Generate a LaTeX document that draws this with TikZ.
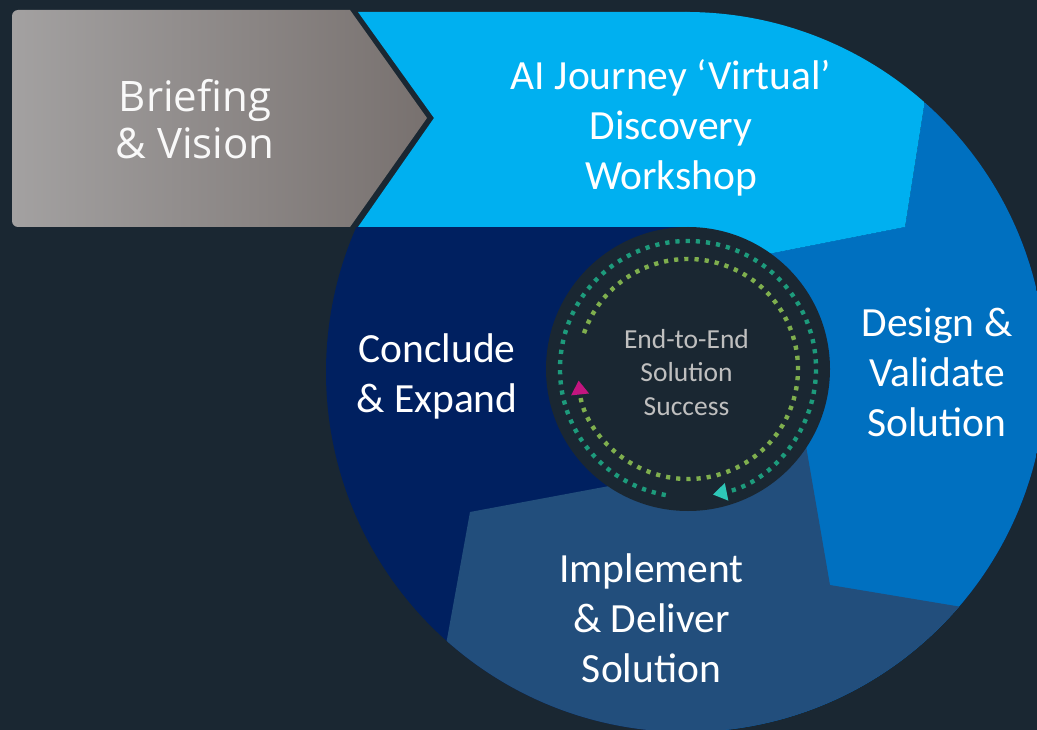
\documentclass[tikz,border=0pt]{standalone}
\usepackage{fontspec}
\setmainfont{Carlito}
\newfontfamily\briefingfont{Open Sans}
\usetikzlibrary{arrows.meta}

\definecolor{bgdark}{HTML}{1A2732}
\definecolor{skyblue}{HTML}{00B0F0}
\definecolor{midblue}{HTML}{0070C0}
\definecolor{navyblue}{HTML}{002060}
\definecolor{steelblue}{HTML}{224E7C}
\definecolor{grayL}{HTML}{A3A1A1}
\definecolor{grayR}{HTML}{78716F}
\definecolor{ringgreen}{HTML}{7FAF4E}
\definecolor{ringteal}{HTML}{1D9B7C}
\definecolor{tipmagenta}{HTML}{C3157F}
\definecolor{tipcyan}{HTML}{2EC7B8}
\definecolor{coretext}{HTML}{BFBFBF}

\begin{document}
\begin{tikzpicture}[x=1pt,y=-1pt,
  phase/.style={text=white, align=center, inner sep=0pt,
    font=\fontsize{41.5}{50}\selectfont},
  coretxt/.style={text=coretext, align=center, inner sep=0pt,
    font=\fontsize{27.5}{33.5}\selectfont},
  dotring/.style={line width=4.4pt, dash pattern=on 4.2pt off 6pt}]

% canvas
\fill[bgdark] (0,0) rectangle (1037,730);
\useasboundingbox (0,0) rectangle (1037,730);

% ring segments, cut by the outer circle
\begin{scope}
  \clip (686,372) circle[radius=360];
  \fill[navyblue] (300,227) rectangle (1100,800);
  \fill[midblue] (688,369) -- (760,255.6) -- (905,227) -- (948.6,-50)
    -- (1200,-50) -- (1200,800) -- (700,800) -- cycle;
  \fill[steelblue] (436,700) -- (470,512) -- (620,484) -- (688,369)
    -- (805,440) -- (830,585) -- (1100,630) -- (1100,800) -- (436,800) -- cycle;
  \fill[skyblue] (680,-50) -- (948.6,-50) -- (905,227) -- (760,255.6)
    -- (688,240) -- (680,240) -- cycle;
\end{scope}
% flat-topped head of the discovery segment, notched for the briefing arrow
\fill[skyblue] (358,12) -- (690,12) -- (690,227) -- (358,227) -- (434,118) -- cycle;

% briefing arrow
\shade[left color=grayL, right color=grayR]
  (350,10) -- (18,10) .. controls (14.7,10) and (12,12.7) .. (12,16)
  -- (12,221) .. controls (12,224.3) and (14.7,227) .. (18,227)
  -- (350,227) -- (427,118) -- cycle;

% hub
\fill[bgdark] (688,369) circle[radius=142];
\draw[ringgreen, dotring, -{Triangle[length=14pt, width=17pt, color=tipmagenta]}]
  (688,369) ++(199:110) arc[start angle=199, end angle=534, radius=110];
\draw[ringteal, dotring, -{Triangle[length=14pt, width=17pt, color=tipcyan]}]
  (688,369) ++(100:128) arc[start angle=100, end angle=438.8, radius=128];

% labels
\node[phase, font=\briefingfont\fontsize{42}{47}\selectfont, text=white!95!gray]
  (brief) at (195,119.5) {Briefing\\\& Vision};
\node[phase] (disc) at (671,127.5) {AI Journey ‘Virtual’\\Discovery\\Workshop};
\node[phase] (design) at (937,372) {Design \&\\Validate\\Solution};
\node[phase] (impl) at (651.5,618.5) {Implement\\\& Deliver\\Solution};
\node[phase] (concl) at (437,376.5) {Conclude\\\& Expand};
\node[coretxt] (core) at (686.5,372.2) {End-to-End\\Solution\\Success};
\end{tikzpicture}
\end{document}
